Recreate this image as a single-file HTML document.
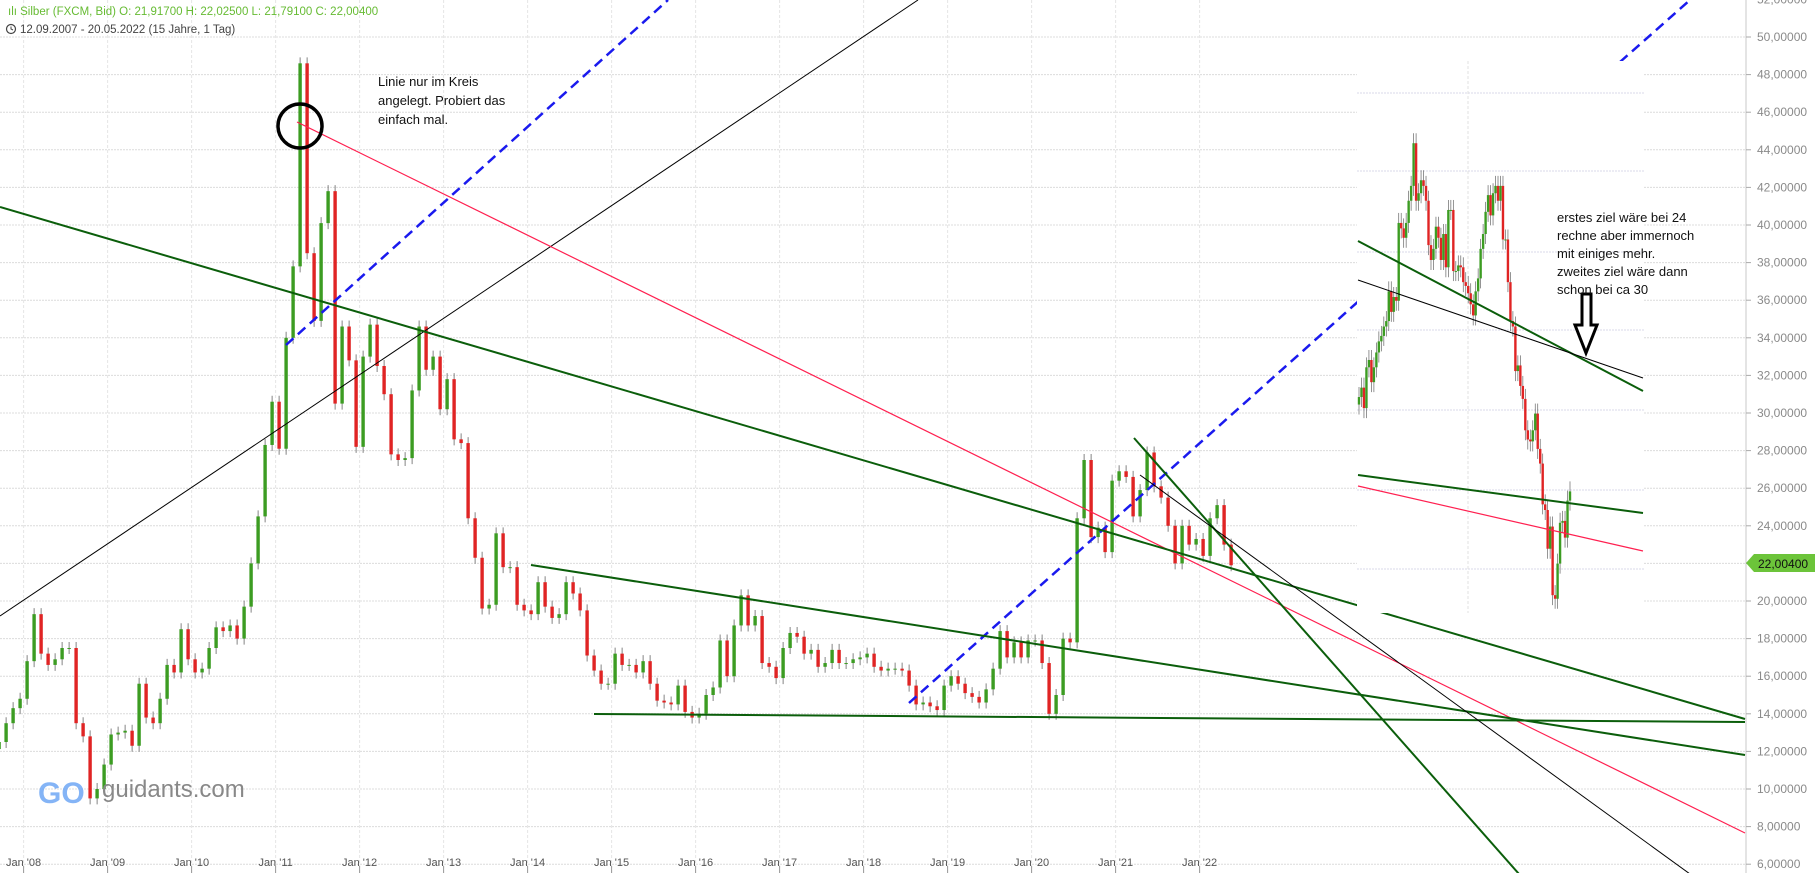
<!DOCTYPE html>
<html><head><meta charset="utf-8"><style>
html,body{margin:0;padding:0;background:#fff;overflow:hidden}
svg{display:block;font-family:"Liberation Sans",sans-serif}
</style></head><body>
<svg id="c" width="1815" height="873" xmlns="http://www.w3.org/2000/svg">
<g id="grid"></g>
<g id="candles"></g>
<g id="lines">
  <line x1="0" y1="616" x2="918" y2="0" stroke="#000" stroke-width="1"/>
  <line x1="286" y1="345" x2="668" y2="0" stroke="#1a1aee" stroke-width="2.5" stroke-dasharray="10,6"/>
  <line x1="909" y1="703" x2="1361" y2="299" stroke="#1a1aee" stroke-width="2.5" stroke-dasharray="10,6"/>
  <line x1="1620" y1="62" x2="1690" y2="0" stroke="#1a1aee" stroke-width="2.5" stroke-dasharray="10,6"/>
  <line x1="297" y1="122" x2="1745" y2="833" stroke="#ff2050" stroke-width="1.2"/>
  <line x1="0" y1="207" x2="1745" y2="719" stroke="#0b5e0b" stroke-width="2"/>
  <line x1="531" y1="565" x2="1745" y2="755" stroke="#0b5e0b" stroke-width="2"/>
  <line x1="594" y1="714" x2="1745" y2="722" stroke="#0b5e0b" stroke-width="2"/>
  <line x1="1134" y1="438" x2="1519" y2="874" stroke="#0b5e0b" stroke-width="2"/>
  <line x1="1140" y1="475" x2="1690" y2="874" stroke="#000" stroke-width="1"/>
  <circle cx="300" cy="126" r="22" fill="none" stroke="#000" stroke-width="3.5"/>
</g>
<g id="inset">
  <rect x="1357" y="61" width="287" height="552" fill="#fff"/>
  <g id="insetgrid"></g>
  <g id="insetcandles"></g>
  <line x1="1358" y1="241" x2="1643" y2="391" stroke="#0b5e0b" stroke-width="2"/>
  <line x1="1358" y1="280" x2="1643" y2="378" stroke="#000" stroke-width="1"/>
  <line x1="1358" y1="475" x2="1643" y2="513" stroke="#0b5e0b" stroke-width="2"/>
  <line x1="1358" y1="486" x2="1643" y2="551" stroke="#ff2050" stroke-width="1.2"/>
  <path d="M1582,294 L1591,294 L1591,325 L1597,325 L1586,353 L1575,325 L1582,325 Z" fill="#fff" stroke="#000" stroke-width="3"/>
  <text font-size="13" fill="#111">
    <tspan x="1557" y="222">erstes ziel wäre bei 24</tspan>
    <tspan x="1557" y="240">rechne aber immernoch</tspan>
    <tspan x="1557" y="258">mit einiges mehr.</tspan>
    <tspan x="1557" y="276">zweites ziel wäre dann</tspan>
    <tspan x="1557" y="294">schon bei ca 30</tspan>
  </text>
</g>
<text font-size="13" fill="#111">
  <tspan x="378" y="86">Linie nur im Kreis</tspan>
  <tspan x="378" y="105">angelegt. Probiert das</tspan>
  <tspan x="378" y="124">einfach mal.</tspan>
</text>
<g id="axis">
  <line x1="1746" y1="0" x2="1746" y2="873" stroke="#c8c8c8" stroke-width="1"/>
</g>
<g>
  <path d="M1746,563 L1754,554 L1815,554 L1815,572 L1754,572 Z" fill="#6cc43a"/>
  <text x="1758" y="568" font-size="12" fill="#111">22,00400</text>
</g>
<g>
  <text x="8" y="15" font-size="11.5" fill="#66bb33">ılı Silber (FXCM, Bid)  O: 21,91700  H: 22,02500  L: 21,79100  C: 22,00400</text>
  <circle cx="11" cy="29" r="4.5" fill="none" stroke="#444" stroke-width="1.2"/>
  <path d="M11,26.5 L11,29 L13,30" fill="none" stroke="#444" stroke-width="1"/>
  <text x="20" y="33" font-size="11.5" fill="#444">12.09.2007 - 20.05.2022   (15 Jahre, 1 Tag)</text>
</g>
<g>
  <text x="38" y="803" font-size="30" font-weight="bold" fill="#6fa8f5" opacity="0.85">GO</text>
  <text x="102" y="797" font-size="24" fill="#888">guidants.com</text>
</g>
<g id="xlabels"></g>
</svg>
<script>
const yTicks=[6,8,10,12,14,16,18,20,22,24,26,28,30,32,34,36,38,40,42,44,46,48,50,52];
const xYears=[2008,2009,2010,2011,2012,2013,2014,2015,2016,2017,2018,2019,2020,2021,2022];
const startYear=2007, startMonth=8;
const closes=[12.5,13.5,14.3,14.8,
16.8,19.3,17.2,16.6,16.9,17.5,17.5,13.5,12.8,9.5,10.0,11.3,
12.9,13.0,13.1,12.3,15.6,13.8,13.5,14.8,16.6,16.2,18.5,16.9,
16.2,16.4,17.5,18.6,18.4,18.7,18.0,19.7,22.0,24.5,28.3,30.6,
28.1,34.0,37.8,48.6,38.5,34.9,40.1,41.8,30.5,34.6,32.8,28.2,
33.0,34.7,32.5,31.0,27.8,27.5,27.6,31.2,34.6,32.3,33.0,30.2,
31.8,28.6,28.4,24.4,22.3,19.6,19.8,23.6,21.8,21.8,19.8,19.5,
19.3,21.0,19.7,19.1,19.3,21.0,20.4,19.5,17.1,16.3,15.6,15.6,
17.2,16.6,16.6,16.2,16.8,15.6,14.7,14.6,14.5,15.5,14.1,13.8,
14.0,15.0,15.4,17.9,16.0,18.7,20.3,18.7,19.2,16.7,16.5,15.9,
17.5,18.3,18.1,17.2,17.4,16.5,16.7,17.4,16.7,16.7,16.9,17.0,
17.2,16.5,16.3,16.4,16.4,16.3,15.5,14.5,14.6,14.4,14.2,15.5,
16.0,15.6,15.1,14.9,14.6,15.3,16.4,18.4,17.0,17.8,17.0,17.9,
17.9,16.7,14.0,15.0,18.0,17.8,24.4,27.5,23.4,23.9,22.6,26.4,
26.9,26.6,24.5,25.9,27.9,26.1,25.5,24.0,22.0,24.0,23.0,23.3,
22.4,24.4,25.1,23.0,21.9];
const insetValues=[30.85,31.35,30.26,32.43,32.82,31.64,32.43,33.22,33.81,34.10,34.60,34.89,36.47,35.38,36.17,35.97,40.11,39.82,39.32,40.11,41.29,42.08,44.35,41.29,41.69,42.38,42.08,41.29,38.93,38.14,38.73,39.91,39.32,38.14,39.52,37.75,40.80,40.80,37.55,37.55,37.85,37.75,36.96,36.76,36.37,35.78,35.19,36.47,37.16,38.73,39.52,40.70,41.59,40.51,41.69,42.08,41.29,42.08,39.23,39.23,36.96,34.89,34.60,32.23,32.53,31.44,30.75,29.08,28.59,28.49,29.08,29.97,28.09,27.31,25.14,24.84,22.78,23.96,20.31,20.12,21.99,24.16,24.26,23.37,25.34,25.83];

const NS="http://www.w3.org/2000/svg";
function mk(tag,attrs,parent){const e=document.createElementNS(NS,tag);for(const k in attrs)e.setAttribute(k,attrs[k]);parent.appendChild(e);return e;}
const yS=v=>37+(50-v)*18.8;
const xS=t=>107.6+(t-2009)*84;
const fmt=v=>v.toFixed(5).replace('.',',');

const grid=document.getElementById('grid');
yTicks.forEach(v=>{
  const y=yS(v);
  const l=mk('line',{x1:0,y1:y,x2:1746,y2:y,stroke:'#dcdcdc','stroke-width':1,'stroke-dasharray':'2,1'},grid);
  
  
  const tk=mk('line',{x1:1746,y1:y,x2:1751,y2:y,stroke:'#aaa'},document.getElementById('axis'));
  
  
  const t=mk('text',{x:1757,y:y+4,'font-size':12,fill:'#8a8a8a'},document.getElementById('axis'));
  
  
  t.textContent=fmt(v);
});
const xl=document.getElementById('xlabels');
xYears.forEach(yr=>{
  const x=xS(yr);
  const l=mk('line',{x1:x,y1:0,x2:x,y2:873,stroke:'#e6e6e6','stroke-width':1,'stroke-dasharray':'3,2'},grid);
  
  
  const tk=mk('line',{x1:x,y1:866,x2:x,y2:873,stroke:'#999'},xl);
  
  
  const t=mk('text',{x:x,y:866,'font-size':11,fill:'#555','text-anchor':'middle'},xl);
  
  
  t.textContent="Jan '"+String(yr%100).padStart(2,'0');
});

const cg=document.getElementById('candles');
let prev=closes[0]*0.97;
closes.forEach((c,i)=>{
  const m=startMonth+i;
  const t=startYear+m/12;
  const x=xS(t)+3.5;
  const o=prev;
  const up=c>=o;
  const y1=yS(Math.max(o,c)), y2=yS(Math.min(o,c));
  const w=mk('line',{x1:x,y1:y1-6,x2:x,y2:y2+6,stroke:'#666','stroke-width':0.8},cg);
  
  
  const r=mk('rect',{x:x-1.7,y:y1,width:3.4,height:Math.max(1,y2-y1),fill:up?'#3c9c22':'#e02424'},cg);
  
  
  prev=c;
});

const ig=document.getElementById('insetgrid');
[93,171,252,330,410,490,569].forEach(y=>{
  const l=mk('line',{x1:1357,y1:y,x2:1644,y2:y,stroke:'#d8d8e8','stroke-dasharray':'2,1'},ig);
  
  
});
const vl=mk('line',{x1:1468,y1:61,x2:1468,y2:613,stroke:'#e0e0e0','stroke-dasharray':'3,2'},ig);



const icg=document.getElementById('insetcandles');
let ip=insetValues[0]-0.4;
const step=(1570-1359)/(insetValues.length-1);
insetValues.forEach((c,i)=>{
  const x=1359+i*step;
  const o=ip, up=c>=o;
  const y1=yS(Math.max(o,c)), y2=yS(Math.min(o,c));
  const w=mk('line',{x1:x,y1:y1-10,x2:x,y2:y2+10,stroke:'#666','stroke-width':0.7},icg);
  
  
  const r=mk('rect',{x:x-1.2,y:y1,width:2.4,height:Math.max(1,y2-y1),fill:up?'#3c9c22':'#e02424'},icg);
  
  
  ip=c;
});
</script>
</body></html>
